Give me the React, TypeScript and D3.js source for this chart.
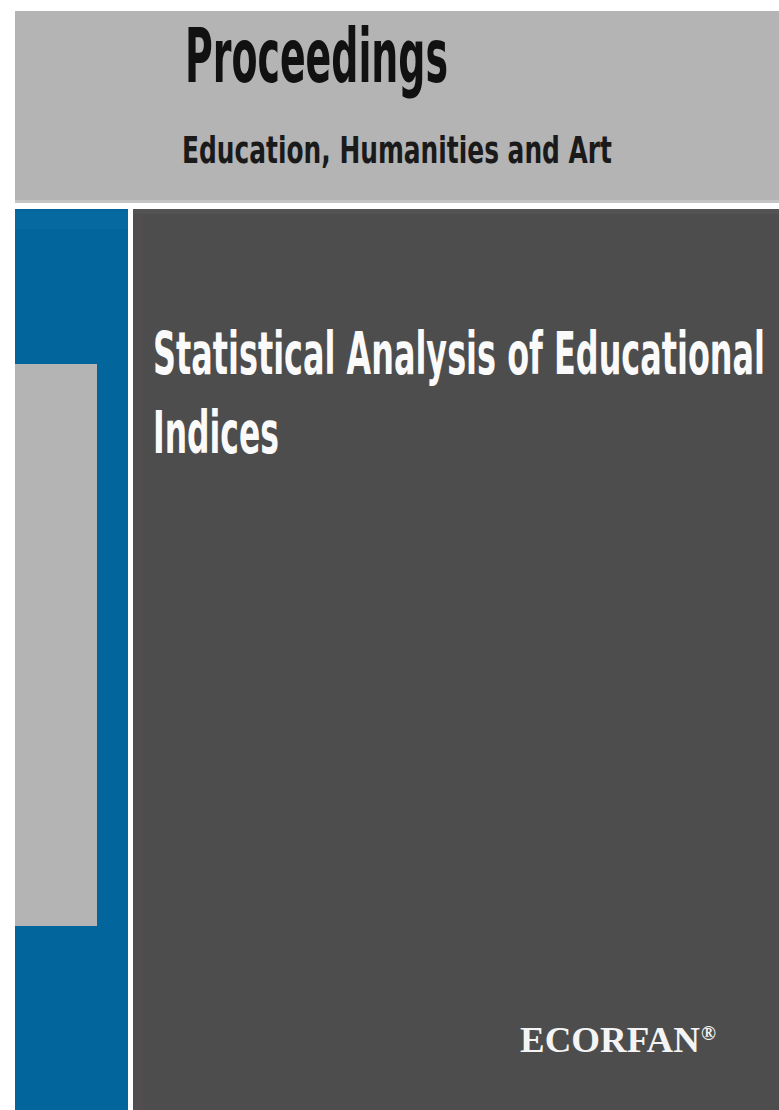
import React, { useRef, useEffect } from 'react';
import * as d3 from 'd3';

// cover text
const SERIES_TITLE = ['Proceedings'];
const SERIES_SUBTITLE = ['Education, Humanities and Art'];
const BOOK_TITLE = ['Statistical Analysis of Educational', 'Indices'];
const PUBLISHER = ['ECORFAN'];

const WIDTH = 779;
const HEIGHT = 1110;

const COLORS = {
  page: '#ffffff',
  header: '#b4b4b4',
  blue: '#02659b',
  dark: '#4d4d4d',
  inset: '#b4b4b4',
};

const CONDENSED = '"Liberation Sans Narrow", "DejaVu Sans Condensed", "Open Sans", sans-serif';

const App: React.FC = () => {
  const svgRef = useRef<SVGSVGElement>(null);

  useEffect(() => {
    if (!svgRef.current) return;
    const svg = d3.select(svgRef.current);
    svg.selectAll('*').remove();

    svg.attr('width', WIDTH).attr('height', HEIGHT);

    // Background
    svg.append('rect').attr('width', WIDTH).attr('height', HEIGHT).attr('fill', COLORS.page);

    // Header band
    svg.append('rect')
      .attr('x', 15).attr('y', 11)
      .attr('width', WIDTH - 15).attr('height', 192)
      .attr('fill', COLORS.header);
    svg.append('rect')
      .attr('x', 15).attr('y', 200)
      .attr('width', WIDTH - 15).attr('height', 3)
      .attr('fill', '#c4c4c4');

    // Blue spine panel
    svg.append('rect')
      .attr('x', 15).attr('y', 209)
      .attr('width', 113).attr('height', HEIGHT - 209)
      .attr('fill', COLORS.blue);
    svg.append('rect')
      .attr('x', 15).attr('y', 211)
      .attr('width', 113).attr('height', 18)
      .attr('fill', '#06699f');

    // Grey inset on the spine
    svg.append('rect')
      .attr('x', 15).attr('y', 364)
      .attr('width', 82).attr('height', 562)
      .attr('fill', COLORS.inset);

    // Dark main panel
    svg.append('rect')
      .attr('x', 133).attr('y', 209)
      .attr('width', WIDTH - 133).attr('height', HEIGHT - 209)
      .attr('fill', COLORS.dark);
    svg.append('rect')
      .attr('x', 133).attr('y', 209)
      .attr('width', 10).attr('height', HEIGHT - 209)
      .attr('fill', '#524e4f');
    svg.append('rect')
      .attr('x', 133).attr('y', 209)
      .attr('width', WIDTH - 133).attr('height', 5)
      .attr('fill', '#535353');

    // Header text
    svg.append('text')
      .attr('x', 185).attr('y', 82)
      .attr('font-family', CONDENSED)
      .attr('font-weight', 'bold')
      .attr('font-size', 74)
      .attr('fill', '#111111')
      .attr('textLength', 263)
      .attr('lengthAdjust', 'spacingAndGlyphs')
      .text(SERIES_TITLE[0]);

    svg.append('text')
      .attr('x', 182).attr('y', 163)
      .attr('font-family', CONDENSED)
      .attr('font-weight', 'bold')
      .attr('font-size', 38)
      .attr('fill', '#1a1a1a')
      .attr('textLength', 430)
      .attr('lengthAdjust', 'spacingAndGlyphs')
      .text(SERIES_SUBTITLE[0]);

    // Book title: a narrower font stretched vertically, so the natural width fits
    const titleWidths = [612, 126];
    const titleSize = 36;
    const stretch = 58 / titleSize;
    svg.selectAll('text.title')
      .data(BOOK_TITLE)
      .enter()
      .append('text')
      .attr('class', 'title')
      .attr('transform', (_d, i) => `translate(153, ${374 + i * 79}) scale(1, ${stretch})`)
      .attr('font-family', CONDENSED)
      .attr('font-weight', 'bold')
      .attr('font-size', titleSize)
      .attr('fill', '#fafafa')
      .attr('textLength', (_d, i) => titleWidths[i])
      .attr('lengthAdjust', 'spacingAndGlyphs')
      .text((d) => d);

    // Publisher mark
    const pub = svg.append('text')
      .attr('x', 520).attr('y', 1052)
      .attr('font-family', '"Liberation Serif", "DejaVu Serif", serif')
      .attr('font-weight', 'bold')
      .attr('font-size', 35)
      .attr('fill', '#f4f4f4');
    pub.append('tspan')
      .attr('textLength', 180)
      .attr('lengthAdjust', 'spacingAndGlyphs')
      .text(PUBLISHER[0]);
    pub.append('tspan')
      .attr('x', 701)
      .attr('y', 1040)
      .attr('font-size', 20)
      .text('®');
  }, []);

  return (
    <svg
      ref={svgRef}
      style={{ position: 'absolute', left: 0, top: 0, display: 'block' }}
    />
  );
};

export default App;
